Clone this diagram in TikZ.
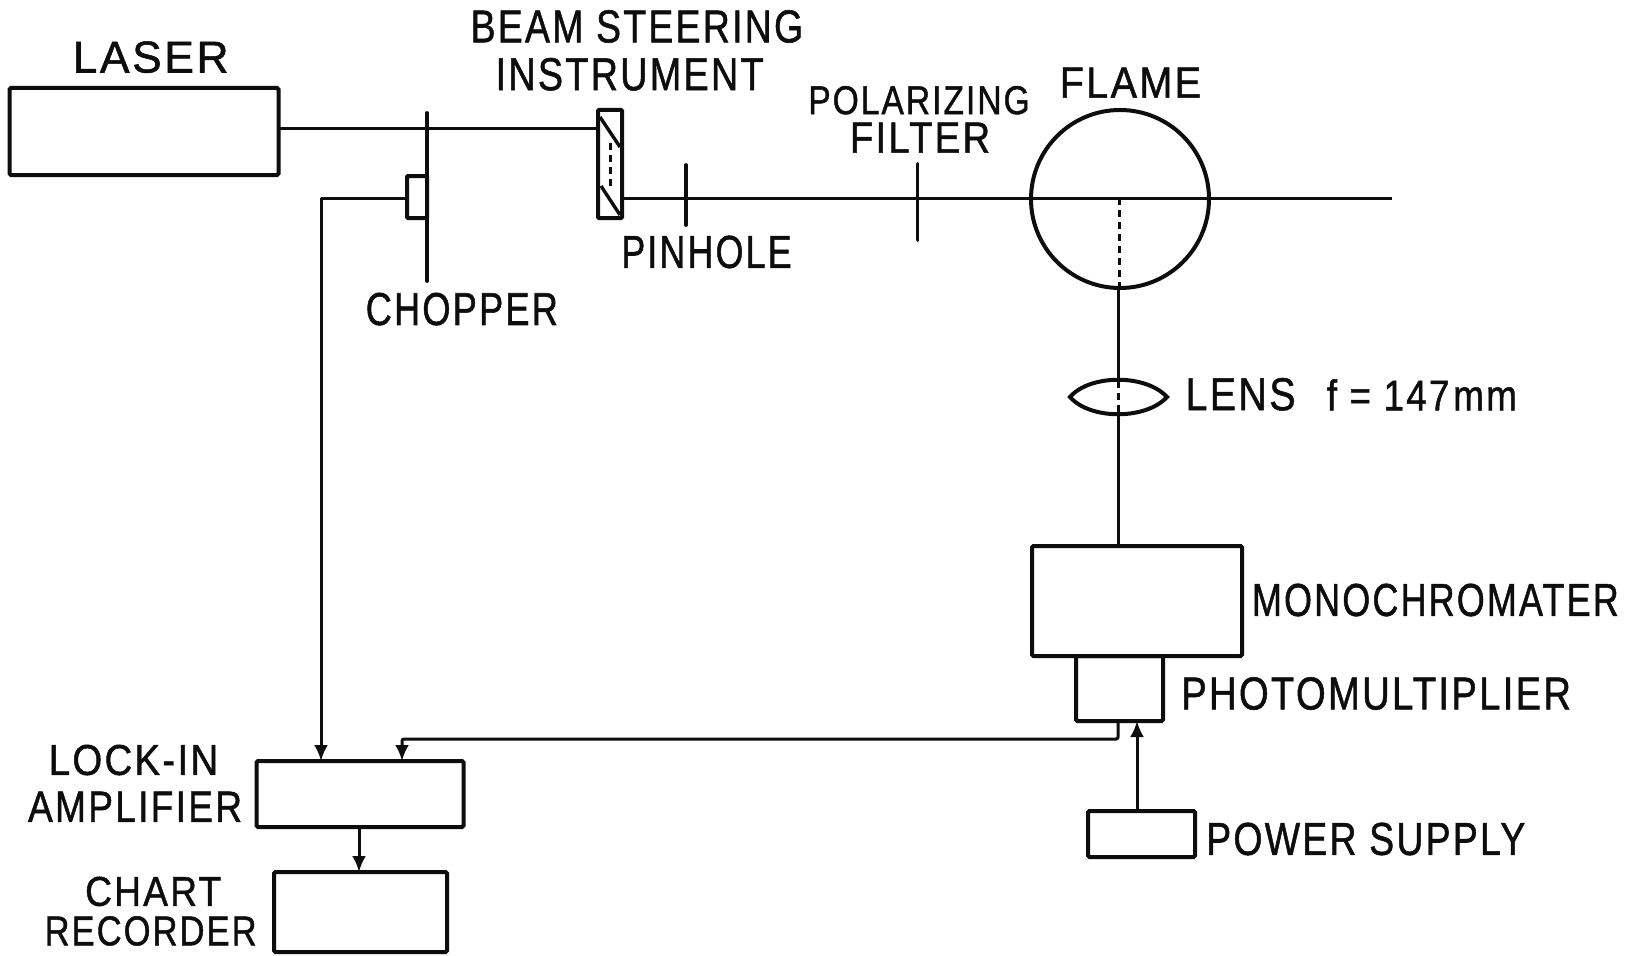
\documentclass[tikz,border=0pt]{standalone}
\usepackage{fontspec}
\setmainfont[LetterSpace=6,FakeBold=1.2]{Liberation Sans}
\usetikzlibrary{arrows.meta}
\definecolor{inkc}{gray}{0.05}
\tikzset{
  boxn/.style={draw=inkc,line width=4pt,rounded corners=1.5pt,inner sep=0pt,outer sep=0pt},
  beam/.style={draw=inkc,line width=3pt},
  bar/.style={draw=inkc,line width=3.8pt,line cap=round},
  axisdash/.style={draw=inkc,line width=3pt,dash pattern=on 7pt off 5pt},
  sig/.style={draw=inkc,line width=3pt,-{Latex[length=16pt,width=14pt]}},
  lab/.style={text=inkc,inner sep=0pt,outer sep=0pt,anchor=center}
}
% name, x1, x2, y1, y2 (in the 1568-wide view), text
\newcommand{\lbl}[6]{%
  \pgfmathsetmacro{\lblw}{(#3-#2)*1.039}%
  \pgfmathsetmacro{\lblh}{(#5-#4)*1.039}%
  \pgfmathsetmacro{\lblx}{(#2+#3)/2*1.039}%
  \pgfmathsetmacro{\lbly}{(#4+#5)/2*1.039}%
  \node[lab] (#1) at (\lblx,\lbly) {\resizebox{\lblw pt}{\lblh pt}{#6}};%
}
\begin{document}
\begin{tikzpicture}[x=1pt,y=-1pt]
\useasboundingbox (0,0) rectangle (1629,955);
\fill[white] (0,0) rectangle (1629,955);
% boxes
\node[boxn,minimum width=269pt,minimum height=87pt] (laser) at (144,131.5) {};
\node[boxn,minimum width=210pt,minimum height=110pt] (mono) at (1137,601) {};
\node[boxn,minimum width=87pt,minimum height=65pt] (pmt) at (1119.5,688.5) {};
\node[boxn,minimum width=107pt,minimum height=46pt] (psu) at (1141.5,834) {};
\node[boxn,minimum width=207pt,minimum height=66pt] (lockin) at (360,794) {};
\node[boxn,minimum width=173pt,minimum height=80pt] (chart) at (360.5,912) {};
\node[boxn,minimum width=20pt,minimum height=42pt,rounded corners=1pt] (chopbox) at (417,197) {};
\node[boxn,minimum width=24pt,minimum height=108pt,rounded corners=1pt] (steer) at (610,164) {};
\node[draw=inkc,line width=4pt,circle,minimum size=178pt,inner sep=0pt,outer sep=0pt] (flame) at (1120,199) {};
% anchor coordinates
\coordinate (chopT) at (427,113);
\coordinate (chopB) at (427,281);
\coordinate (beamA) at (laser.east |- 0,129);
\coordinate (beamB) at (steer.west |- 0,129);
\coordinate (beamC) at (steer.east |- 0,198);
\coordinate (beamEnd) at (1392,198);
\coordinate (pinT) at (686,165);
\coordinate (pinB) at (686,225);
\coordinate (polT) at (917.5,164);
\coordinate (polB) at (917.5,240);
\coordinate (refL) at (321,198);
\coordinate (refD) at (321,761);
\coordinate (sigA) at (1118,721);
\coordinate (sigB) at (1118,739);
\coordinate (sigC) at (402,739);
\coordinate (sigD) at (402,761);
% beams
\draw[beam] (beamA) -- (beamB);
\draw[beam] (beamC) -- (beamEnd);
\draw[bar] (chopT) -- (chopB);
\draw[bar] (pinT) -- (pinB);
\draw[bar] (polT) -- (polB);
% steering prisms
\coordinate (pr1) at (600,117);
\coordinate (pr2) at (620,147);
\coordinate (pr3) at (601,186);
\coordinate (pr4) at (620,215);
\draw[beam,line width=3.4pt] (pr1) -- (pr2);
\draw[beam,line width=3.4pt] (pr3) -- (pr4);
\coordinate (pd1) at (610,143);
\coordinate (pd2) at (610,188);
\draw[axisdash] (pd1) -- (pd2);
% flame axis
\coordinate (fc) at (1119,198);
\draw[axisdash] (fc) -- (flame.south -| fc);
% lens
\coordinate (lensL) at (1070,397);
\coordinate (lensR) at (1167,397);
\coordinate (lensT) at (1118,381);
\coordinate (lensB) at (1118,413);
\draw[draw=inkc,line width=4pt,line join=miter]
  (lensL) .. controls (1090,374) and (1146,374) .. (lensR)
  .. controls (1146,420) and (1090,420) .. cycle;
\draw[axisdash] (lensT) -- (lensB);
\draw[beam] (flame.south -| lensT) -- (lensT);
\draw[beam] (lensB) -- (mono.north -| lensB);
% signals
\draw[sig] (refL) -- (refD);
\draw[beam] (refL) -- (chopbox.west |- refL);
\draw[sig,rounded corners=2pt] (sigA) -- (sigB) -- (sigC) -- (sigD);
\draw[sig] (psu.north -| 1137,0) -- (pmt.south -| 1137,0);
\draw[sig] (lockin.south -| 359,0) -- (chart.north -| 359,0);
% labels
\lbl{tLaser}{70}{220}{40}{70}{LASER}
\lbl{tBeam}{453}{773}{10}{41}{BEAM STEERING}
\lbl{tInstr}{477}{735}{56}{87}{INSTRUMENT}
\lbl{tPol}{778}{991}{83}{110}{POLARIZING}
\lbl{tFilter}{818}{953}{118}{147}{FILTER}
\lbl{tFlame}{1020}{1156}{65}{94}{FLAME}
\lbl{tPin}{598}{762}{227}{258}{PINHOLE}
\lbl{tChop}{352}{537}{282}{313}{CHOPPER}
\lbl{tLens}{1141}{1247}{364}{395}{LENS}
\lbl{tFocal}{1277}{1460}{365}{395}{f = 147\hspace{0.1em}mm}
\lbl{tMono}{1205}{1558}{562}{593}{MONOCHROMATER}
\lbl{tPmt}{1137}{1512}{652}{683}{PHOTOMULTIPLIER}
\lbl{tPsu}{1161}{1468}{792}{823}{POWER SUPPLY}
\lbl{tLock}{47}{210}{717}{746}{LOCK-IN}
\lbl{tAmp}{27}{233}{762}{791}{AMPLIFIER}
\lbl{tChart}{82}{213}{844}{872}{CHART}
\lbl{tRec}{43}{247}{882}{910}{RECORDER}
\end{tikzpicture}
\end{document}
